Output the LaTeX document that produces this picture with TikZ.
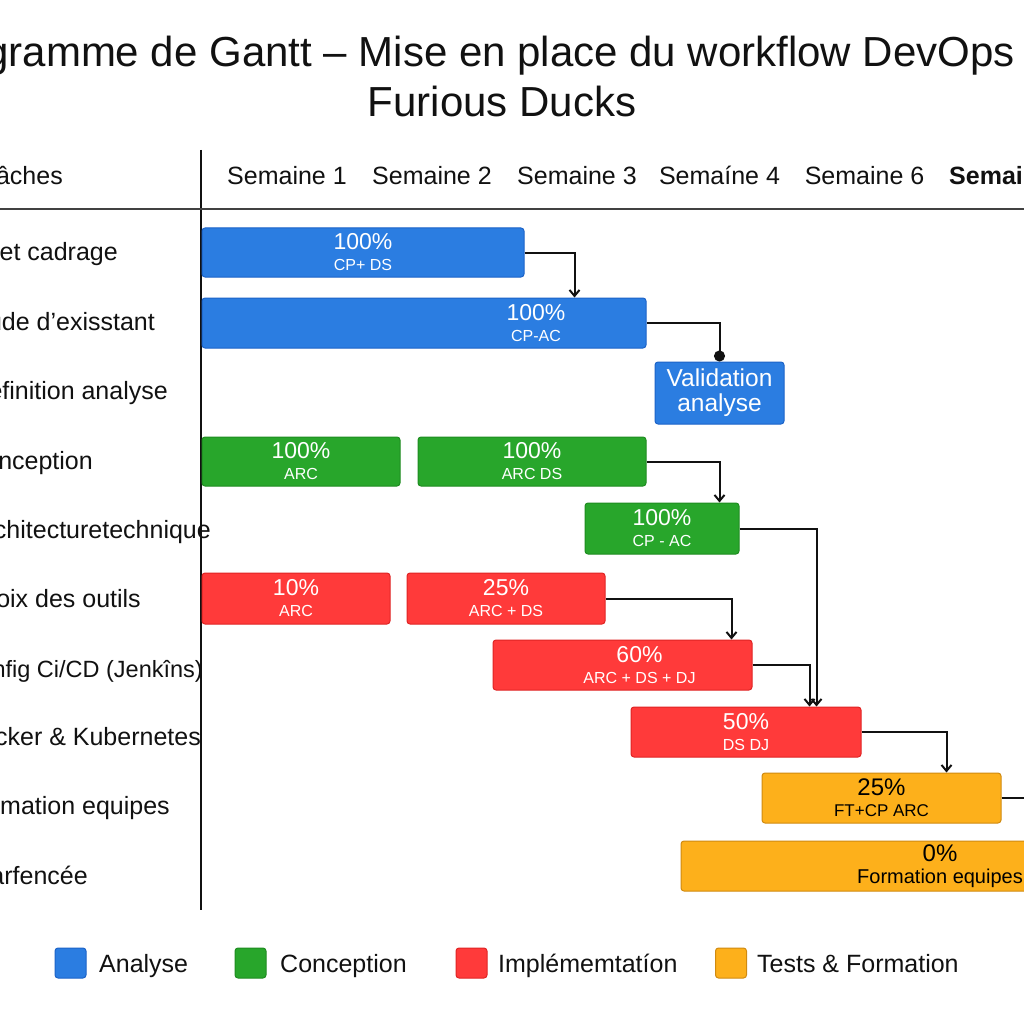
\documentclass[tikz,border=0pt]{standalone}
\usepackage{fontspec}
\setmainfont{Liberation Sans}
\usetikzlibrary{arrows.meta}

\definecolor{azul}{HTML}{2B7DE1}
\definecolor{azulB}{HTML}{1C63C8}
\definecolor{verde}{HTML}{28A62B}
\definecolor{verdeB}{HTML}{1E8C20}
\definecolor{rojo}{HTML}{FF3A3A}
\definecolor{rojoB}{HTML}{E02424}
\definecolor{naranja}{HTML}{FDB01B}
\definecolor{naranjaB}{HTML}{D08A10}
\definecolor{tinta}{HTML}{111111}

% porcentaje arriba, responsables abajo
\newcommand{\pct}[2]{{\fontsize{23}{23}\selectfont #1}\\#2}

\begin{document}
\begin{tikzpicture}[x=1pt, y=-1pt,
	txt/.style={font=\fontsize{25}{30}\selectfont, text=tinta, inner sep=0pt},
	barra/.style={rectangle, rounded corners=3pt, line width=1pt, inner sep=0pt,
		align=center, text=white, font=\fontsize{16}{21}\selectfont},
	etq/.style={align=center, text=white, inner sep=0pt, font=\fontsize{16}{21}\selectfont},
	analisis/.style={barra, fill=azul, draw=azulB},
	concep/.style={barra, fill=verde, draw=verdeB},
	implem/.style={barra, fill=rojo, draw=rojoB},
	pruebas/.style={barra, fill=naranja, draw=naranjaB, text=black},
	leyenda/.style={rectangle, rounded corners=3pt, line width=1pt, minimum width=31, minimum height=30},
	dep/.style={draw=tinta, line width=2pt, -{Straight Barb[length=6pt,width=10pt]}},
	punto/.style={draw=tinta, line width=2pt, -{Circle[length=11pt]}}]

	\useasboundingbox (0,0) rectangle (1024,1024);
	\clip (0,0) rectangle (1024,1024);
	\fill[white] (0,0) rectangle (1024,1024);

	% 1. Titulo
	\node[txt, font=\fontsize{42}{48}\selectfont, anchor=base east] (tit1) at (1015,67)
		{Diagramme de Gantt – Mise en place du workflow DevOps};
	\node[txt, font=\fontsize{42}{48}\selectfont, anchor=base] (tit2) at (502,117) {Furious Ducks};

	% 2. Cabecera y ejes
	\node[txt, anchor=base east] (tareas) at (63,185) {Tâches};
	\node[txt, anchor=base] (s1) at (287,185) {Semaine 1};
	\node[txt, anchor=base] (s2) at (432,185) {Semaine 2};
	\node[txt, anchor=base] (s3) at (577,185) {Semaine 3};
	\node[txt, anchor=base] (s4) at (719.5,185) {Semaíne 4};
	\node[txt, anchor=base] (s6) at (864.5,185) {Semaine 6};
	\node[txt, anchor=base west, font=\fontsize{25}{30}\selectfont\bfseries] (s7) at (949,185) {Semaine 7};

	\draw[tinta, line width=2pt] (201,150) -- (201,910);
	\draw[tinta!80, line width=1.6pt] (0,209) -- (1024,209);

	% 3. Nombres de las tareas (cortados a la izquierda)
	\node[txt, anchor=base east] (t1) at (118,260) {Lancement et cadrage};
	\node[txt, anchor=base east] (t2) at (155,330) {Étude d’exisstant};
	\node[txt, anchor=base east] (t3) at (168,399) {Définition analyse};
	\node[txt, anchor=base east] (t4) at (93,469) {Conception};
	\node[txt, anchor=base east] (t5) at (211,538) {Architecturetechnique};
	\node[txt, anchor=base east, font=\fontsize{23.5}{30}\selectfont] (t7) at (203,677) {Config Ci/CD (Jenkîns)};
	\node[txt, anchor=base east] (t6) at (141,607) {Choix des outils};
	\node[txt, anchor=base east] (t8) at (201,745) {Docker \& Kubernetes};
	\node[txt, anchor=base east] (t9) at (170,814) {Formation equipes};
	\node[txt, anchor=base east] (t10) at (88,884) {Tests parfencée};

	% 4. Barras
	\node[analisis, minimum width=322, minimum height=49] (b1) at (363,252.5) {\pct{100\%}{CP+ DS}};
	\node[analisis, minimum width=444, minimum height=50,
		label={[etq, xshift=112pt]center:\pct{100\%}{CP-AC}}] (b2) at (424,323) {};
	\node[analisis, minimum width=129, minimum height=62, font=\fontsize{24.5}{25}\selectfont] (val)
		at (719.5,393) {Validation\\analyse};

	\node[concep, minimum width=198, minimum height=49] (c1) at (301,461.5) {\pct{100\%}{ARC}};
	\node[concep, minimum width=228, minimum height=49] (c2) at (532,461.5) {\pct{100\%}{ARC DS}};
	\node[concep, minimum width=154, minimum height=51] (c3) at (662,528.5) {\pct{100\%}{CP - AC}};

	\node[implem, minimum width=188, minimum height=51] (i1) at (296,598.5) {\pct{10\%}{ARC}};
	\node[implem, minimum width=198, minimum height=51] (i2) at (506,598.5) {\pct{25\%}{ARC + DS}};
	\node[implem, minimum width=259, minimum height=50,
		label={[etq, xshift=17pt]center:\pct{60\%}{ARC + DS + DJ}}] (i3) at (622.5,665) {};
	\node[implem, minimum width=230, minimum height=50] (i4) at (746,732) {\pct{50\%}{DS DJ}};

	\node[pruebas, minimum width=239, minimum height=50, font=\fontsize{17}{21}\selectfont] (p1)
		at (881.5,798) {\pct{\fontsize{24}{24}\selectfont 25\%}{FT+CP ARC}};
	\node[pruebas, minimum width=518, minimum height=50, font=\fontsize{20}{22}\selectfont] (p2)
		at (940,866) {\pct{\fontsize{24}{24}\selectfont 0\%}{Formation equipes}};

	% 5. Dependencias
	\coordinate (fin) at (1040,798);
	\draw[dep] (b1.east) -| ([xshift=373pt]b2.north west);
	\draw[punto] (b2.east) -| ([xshift=65pt]val.north west);
	\draw[dep] (c2.east) -| ([xshift=135pt]c3.north west);
	\draw[dep] (c3.east) -| ([xshift=186pt]i4.north west);
	\draw[dep] (i2.east) -| ([xshift=239pt]i3.north west);
	\draw[dep] (i3.east) -| ([xshift=179pt]i4.north west);
	\draw[dep] (i4.east) -| ([xshift=185pt]p1.north west);
	\draw[tinta, line width=2pt] (p1.east) -- (fin);

	% 6. Leyenda
	\node[leyenda, fill=azul, draw=azulB] (l1) at (70.5,963) {};
	\node[leyenda, fill=verde, draw=verdeB] (l2) at (250.5,963) {};
	\node[leyenda, fill=rojo, draw=rojoB] (l3) at (471.5,963) {};
	\node[leyenda, fill=naranja, draw=naranjaB] (l4) at (731,963) {};
	\node[txt, anchor=base west] (n1) at (99,972) {Analyse};
	\node[txt, anchor=base west] (n2) at (280,972) {Conception};
	\node[txt, anchor=base west] (n3) at (498,972) {Implémemtatíon};
	\node[txt, anchor=base west] (n4) at (757,972) {Tests \& Formation};

\end{tikzpicture}
\end{document}
